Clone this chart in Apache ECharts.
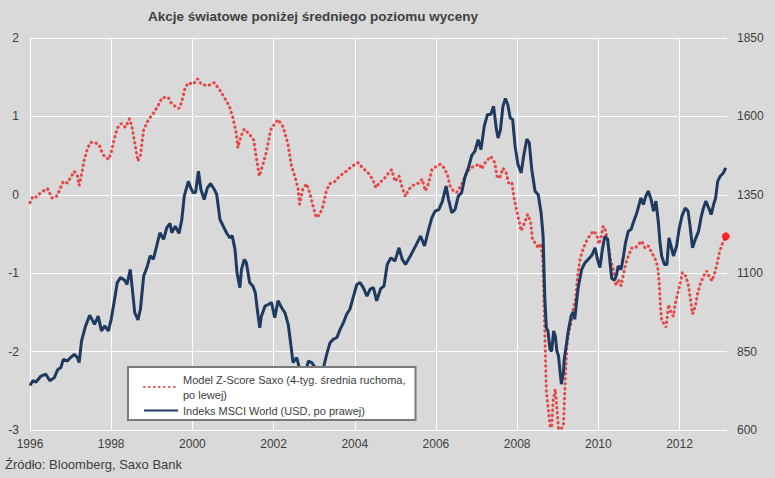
<!DOCTYPE html>
<html>
<head>
<meta charset="utf-8">
<title>Akcje światowe poniżej średniego poziomu wyceny</title>
<script src="https://cdn.jsdelivr.net/npm/echarts@6/dist/echarts.min.js"></script>
<style>
  html, body { margin: 0; padding: 0; background: #d9d9d9; }
  #chart { width: 775px; height: 478px; }
</style>
</head>
<body>
<div id="chart"></div>
<script>
// (lata dziesiętne)
var zYears = [
  1996.00, 1996.07, 1996.15, 1996.27, 1996.43, 1996.54, 1996.64, 1996.72, 1996.82, 1996.92,
  1997.00, 1997.09, 1997.17, 1997.21, 1997.27, 1997.33, 1997.41, 1997.49, 1997.62, 1997.70,
  1997.76, 1997.82, 1997.94, 1998.00, 1998.07, 1998.15, 1998.25, 1998.35, 1998.45, 1998.51,
  1998.58, 1998.66, 1998.72, 1998.80, 1998.92, 1999.04, 1999.17, 1999.25, 1999.41, 1999.49,
  1999.58, 1999.67, 1999.74, 1999.82, 1999.90, 2000.02, 2000.13, 2000.22, 2000.38, 2000.54,
  2000.67, 2000.79, 2000.91, 2001.00, 2001.08, 2001.12, 2001.20, 2001.28, 2001.41, 2001.51,
  2001.57, 2001.65, 2001.74, 2001.82, 2001.93, 2001.98, 2002.11, 2002.23, 2002.35, 2002.44,
  2002.52, 2002.60, 2002.64, 2002.72, 2002.81, 2002.89, 2002.97, 2003.05, 2003.14, 2003.22,
  2003.30, 2003.38, 2003.51, 2003.63, 2003.79, 2003.92, 2004.08, 2004.20, 2004.33, 2004.44,
  2004.52, 2004.60, 2004.72, 2004.85, 2004.91, 2004.99, 2005.09, 2005.17, 2005.25, 2005.33,
  2005.46, 2005.58, 2005.66, 2005.74, 2005.82, 2005.90, 2006.00, 2006.11, 2006.21, 2006.29,
  2006.35, 2006.43, 2006.51, 2006.63, 2006.72, 2006.84, 2006.96, 2007.08, 2007.12, 2007.24,
  2007.35, 2007.45, 2007.50, 2007.57, 2007.65, 2007.73, 2007.79, 2007.87, 2007.93, 2008.02,
  2008.10, 2008.18, 2008.26, 2008.33, 2008.38, 2008.46, 2008.52, 2008.58, 2008.63, 2008.68,
  2008.72, 2008.76, 2008.81, 2008.85, 2008.89, 2008.94, 2008.98, 2009.02, 2009.07, 2009.14,
  2009.18, 2009.22, 2009.26, 2009.33, 2009.38, 2009.44, 2009.49, 2009.55, 2009.63, 2009.71,
  2009.79, 2009.88, 2009.96, 2010.02, 2010.07, 2010.12, 2010.18, 2010.25, 2010.31, 2010.37,
  2010.43, 2010.49, 2010.56, 2010.62, 2010.67, 2010.74, 2010.82, 2010.91, 2010.99, 2011.07,
  2011.15, 2011.23, 2011.32, 2011.40, 2011.46, 2011.50, 2011.53, 2011.56, 2011.63, 2011.67,
  2011.73, 2011.79, 2011.85, 2011.89, 2011.96, 2012.02, 2012.07, 2012.16, 2012.22, 2012.27,
  2012.32, 2012.39, 2012.45, 2012.51, 2012.59, 2012.67, 2012.73, 2012.80, 2012.86, 2012.92,
  2012.98, 2013.05, 2013.09, 2013.14
];
var zScore = [
  -0.10, -0.02, -0.03, 0.03, 0.08, -0.04, -0.03, 0.05, 0.17, 0.15,
  0.22, 0.30, 0.24, 0.12, 0.26, 0.43, 0.58, 0.67, 0.66, 0.64,
  0.56, 0.50, 0.45, 0.54, 0.70, 0.85, 0.91, 0.86, 0.97, 0.87,
  0.66, 0.43, 0.50, 0.83, 0.96, 1.04, 1.15, 1.24, 1.24, 1.16,
  1.13, 1.10, 1.19, 1.36, 1.43, 1.41, 1.48, 1.41, 1.39, 1.43,
  1.34, 1.24, 1.13, 0.98, 0.79, 0.60, 0.75, 0.84, 0.77, 0.70,
  0.49, 0.24, 0.39, 0.54, 0.83, 0.87, 0.96, 0.87, 0.66, 0.37,
  0.24, 0.09, -0.12, 0.07, 0.14, 0.03, -0.14, -0.29, -0.25, -0.14,
  0.05, 0.14, 0.17, 0.24, 0.30, 0.36, 0.41, 0.34, 0.28, 0.20,
  0.09, 0.15, 0.20, 0.29, 0.32, 0.17, 0.24, 0.09, -0.02, 0.07,
  0.13, 0.15, 0.20, 0.05, 0.15, 0.32, 0.36, 0.39, 0.34, 0.24,
  0.11, 0.05, 0.03, 0.13, 0.24, 0.34, 0.37, 0.39, 0.33, 0.43,
  0.49, 0.41, 0.24, 0.21, 0.34, 0.28, 0.15, 0.16, -0.06, -0.27,
  -0.46, -0.36, -0.25, -0.34, -0.58, -0.62, -0.68, -0.62, -0.82, -1.72,
  -2.52, -2.69, -2.95, -2.97, -2.61, -2.48, -2.73, -2.99, -2.99, -2.95,
  -2.44, -1.97, -1.78, -1.63, -1.46, -1.33, -1.04, -0.82, -0.68, -0.59,
  -0.52, -0.46, -0.51, -0.63, -0.53, -0.40, -0.46, -0.65, -0.85, -0.95,
  -1.16, -1.08, -1.16, -1.01, -0.89, -0.78, -0.68, -0.68, -0.63, -0.59,
  -0.68, -0.65, -0.74, -0.82, -0.91, -1.12, -1.42, -1.61, -1.65, -1.69,
  -1.40, -1.50, -1.55, -1.40, -1.25, -1.12, -0.99, -1.04, -1.16, -1.33,
  -1.52, -1.42, -1.25, -1.14, -1.04, -0.97, -1.04, -1.10, -1.01, -0.89,
  -0.74, -0.63, -0.59, -0.53
];

var msciYears = [
  1996.00, 1996.07, 1996.15, 1996.27, 1996.39, 1996.49, 1996.60, 1996.68, 1996.76, 1996.82,
  1996.92, 1997.00, 1997.09, 1997.17, 1997.21, 1997.27, 1997.37, 1997.47, 1997.53, 1997.59,
  1997.68, 1997.76, 1997.84, 1997.93, 1998.00, 1998.07, 1998.15, 1998.23, 1998.33, 1998.39,
  1998.47, 1998.53, 1998.58, 1998.66, 1998.72, 1998.80, 1998.88, 1998.96, 1999.04, 1999.10,
  1999.20, 1999.29, 1999.37, 1999.45, 1999.49, 1999.58, 1999.67, 1999.74, 1999.80, 1999.90,
  1999.96, 2000.02, 2000.08, 2000.15, 2000.21, 2000.29, 2000.37, 2000.45, 2000.54, 2000.60,
  2000.68, 2000.76, 2000.84, 2000.92, 2000.98, 2001.05, 2001.10, 2001.17, 2001.21, 2001.28,
  2001.33, 2001.41, 2001.49, 2001.55, 2001.62, 2001.66, 2001.70, 2001.79, 2001.88, 2001.95,
  2002.03, 2002.11, 2002.20, 2002.28, 2002.36, 2002.42, 2002.48, 2002.57, 2002.65, 2002.76,
  2002.86, 2002.94, 2003.02, 2003.12, 2003.23, 2003.31, 2003.39, 2003.47, 2003.56, 2003.64,
  2003.72, 2003.80, 2003.88, 2003.97, 2004.05, 2004.13, 2004.21, 2004.30, 2004.38, 2004.46,
  2004.54, 2004.64, 2004.72, 2004.80, 2004.89, 2004.99, 2005.09, 2005.17, 2005.25, 2005.37,
  2005.50, 2005.62, 2005.72, 2005.82, 2005.90, 2005.98, 2006.07, 2006.16, 2006.25, 2006.31,
  2006.39, 2006.47, 2006.55, 2006.63, 2006.72, 2006.80, 2006.88, 2006.96, 2007.04, 2007.11,
  2007.19, 2007.27, 2007.35, 2007.42, 2007.49, 2007.53, 2007.59, 2007.65, 2007.71, 2007.77,
  2007.83, 2007.89, 2007.95, 2008.02, 2008.10, 2008.16, 2008.24, 2008.30, 2008.36, 2008.44,
  2008.52, 2008.59, 2008.64, 2008.68, 2008.72, 2008.76, 2008.81, 2008.85, 2008.90, 2008.94,
  2008.98, 2009.02, 2009.06, 2009.09, 2009.14, 2009.16, 2009.22, 2009.26, 2009.33, 2009.38,
  2009.42, 2009.47, 2009.51, 2009.59, 2009.67, 2009.75, 2009.84, 2009.92, 2009.98, 2010.04,
  2010.10, 2010.16, 2010.23, 2010.29, 2010.33, 2010.40, 2010.45, 2010.49, 2010.56, 2010.62,
  2010.67, 2010.74, 2010.81, 2010.86, 2010.95, 2011.05, 2011.11, 2011.17, 2011.23, 2011.30,
  2011.36, 2011.42, 2011.48, 2011.52, 2011.56, 2011.63, 2011.69, 2011.74, 2011.79, 2011.85,
  2011.93, 2011.99, 2012.06, 2012.14, 2012.21, 2012.26, 2012.32, 2012.39, 2012.47, 2012.53,
  2012.59, 2012.65, 2012.72, 2012.78, 2012.84, 2012.89, 2012.94, 2013.00, 2013.07, 2013.14
];
var msciValues = [
  742, 757, 753, 772, 778, 757, 767, 792, 799, 825,
  820, 831, 841, 831, 815, 884, 932, 966, 952, 937,
  963, 916, 932, 916, 953, 1006, 1070, 1086, 1078, 1064,
  1112, 1038, 974, 951, 985, 1091, 1118, 1155, 1145, 1176,
  1229, 1208, 1245, 1259, 1229, 1250, 1227, 1271, 1346, 1393,
  1372, 1356, 1358, 1425, 1367, 1335, 1372, 1386, 1367, 1351,
  1271, 1250, 1229, 1213, 1220, 1176, 1101, 1054, 1112, 1144,
  1133, 1070, 1059, 1038, 963, 926, 963, 995, 1001, 1006,
  958, 1012, 990, 974, 937, 878, 815, 831, 790, 772,
  820, 815, 800, 778, 800, 842, 878, 889, 895, 921,
  942, 969, 985, 1027, 1064, 1070, 1054, 1027, 1049, 1054,
  1012, 1051, 1059, 1128, 1149, 1139, 1181, 1144, 1128, 1155,
  1187, 1218, 1187, 1240, 1277, 1298, 1303, 1330, 1378, 1335,
  1293, 1303, 1346, 1356, 1409, 1436, 1475, 1489, 1526, 1494,
  1569, 1606, 1606, 1632, 1558, 1531, 1558, 1632, 1657, 1638,
  1595, 1590, 1505, 1447, 1420, 1473, 1528, 1515, 1431, 1362,
  1350, 1293, 1218, 1027, 926, 916, 857, 851, 916, 900,
  851, 836, 783, 746, 783, 826, 878, 916, 963, 977,
  953, 1017, 1059, 1112, 1133, 1144, 1157, 1181, 1144, 1118,
  1176, 1218, 1208, 1133, 1083, 1078, 1096, 1123, 1112, 1155,
  1197, 1234, 1240, 1261, 1293, 1340, 1319, 1346, 1362, 1335,
  1298, 1330, 1261, 1197, 1155, 1128, 1128, 1213, 1187, 1155,
  1187, 1240, 1282, 1308, 1298, 1250, 1181, 1208, 1234, 1277,
  1308, 1330, 1308, 1287, 1319, 1340, 1393, 1409, 1418, 1436
];

var zName = 'Model Z-Score Saxo (4-tyg. średnia ruchoma,\npo lewej)';
var msciName = 'Indeks MSCI World (USD, po prawej)';

var yearMin = 1996, yearMax = 2013.17, yearStep = 2;
var leftMin = -3, leftMax = 2, leftStep = 1;
var rightMin = 600, rightMax = 1850, rightStep = 250;

var txt = '#404040';
var font = 'Liberation Sans, Arial, sans-serif';

var myChart = echarts.init(document.getElementById('chart'), null, { renderer: 'svg' });

myChart.setOption({
  backgroundColor: '#d9d9d9',
  textStyle: { fontFamily: font },
  title: {
    text: 'Akcje światowe poniżej średniego poziomu wyceny',
    left: 143,
    top: 4,
    textStyle: { fontSize: 13.5, fontWeight: 'bold', color: txt, fontFamily: font }
  },
  grid: { left: 30, right: 48, top: 38, bottom: 48 },
  legend: {
    orient: 'vertical',
    left: 128,
    top: 367,
    backgroundColor: '#fff',
    borderColor: '#7a7a7a',
    borderWidth: 2,
    padding: [5, 10, 2, 15],
    itemWidth: 34,
    itemHeight: 8,
    itemGap: 1,
    // bez kółka w ikonie legendy
    itemStyle: { opacity: 0 },
    textStyle: { fontSize: 11, color: txt, lineHeight: 15, fontFamily: font },
    data: [zName, msciName]
  },
  xAxis: {
    type: 'value',
    min: yearMin,
    max: yearMax,
    interval: yearStep,
    axisLine: { show: false },
    axisTick: { show: false },
    axisLabel: {
      color: txt, fontSize: 12, margin: 8, showMaxLabel: false,
      formatter: function (v) { return String(Math.round(v)); }
    },
    splitLine: { show: true, showMaxLine: false, lineStyle: { color: '#fff', width: 1 } }
  },
  yAxis: [
    {
      type: 'value',
      min: leftMin, max: leftMax, interval: leftStep,
      axisLine: { show: false },
      axisTick: { show: false },
      axisLabel: { color: txt, fontSize: 12, margin: 11 },
      splitLine: { lineStyle: { color: '#fff', width: 1 } }
    },
    {
      type: 'value',
      position: 'right',
      min: rightMin, max: rightMax, interval: rightStep,
      axisLine: { show: false },
      axisTick: { show: false },
      axisLabel: {
        color: txt, fontSize: 12, margin: 10,
        formatter: function (v) { return String(v); }
      },
      splitLine: { show: false }
    }
  ],
  series: [
    {
      name: zName,
      type: 'line',
      yAxisIndex: 0,
      data: zYears.map(function (x, i) { return [x, zScore[i]]; }),
      symbol: 'none',
      lineStyle: { color: '#e64848', width: 3, type: [0.5, 4.5], cap: 'round' },
      itemStyle: { color: '#e64848' },
      z: 2
    },
    {
      name: msciName,
      type: 'line',
      yAxisIndex: 1,
      data: msciYears.map(function (x, i) { return [x, msciValues[i]]; }),
      symbol: 'none',
      lineStyle: { color: '#1f3a5f', width: 3 },
      itemStyle: { color: '#1f3a5f' },
      z: 3
    },
    {
      type: 'scatter',
      yAxisIndex: 0,
      data: [[zYears[zYears.length - 1], zScore[zScore.length - 1]]],
      symbolSize: 8,
      itemStyle: { color: '#ff0000' },
      z: 4
    }
  ],
  graphic: [
    {
      type: 'text',
      left: 5,
      top: 458,
      style: { text: 'Źródło: Bloomberg, Saxo Bank', fontSize: 13, fill: txt, fontFamily: font }
    }
  ]
});
</script>
</body>
</html>
